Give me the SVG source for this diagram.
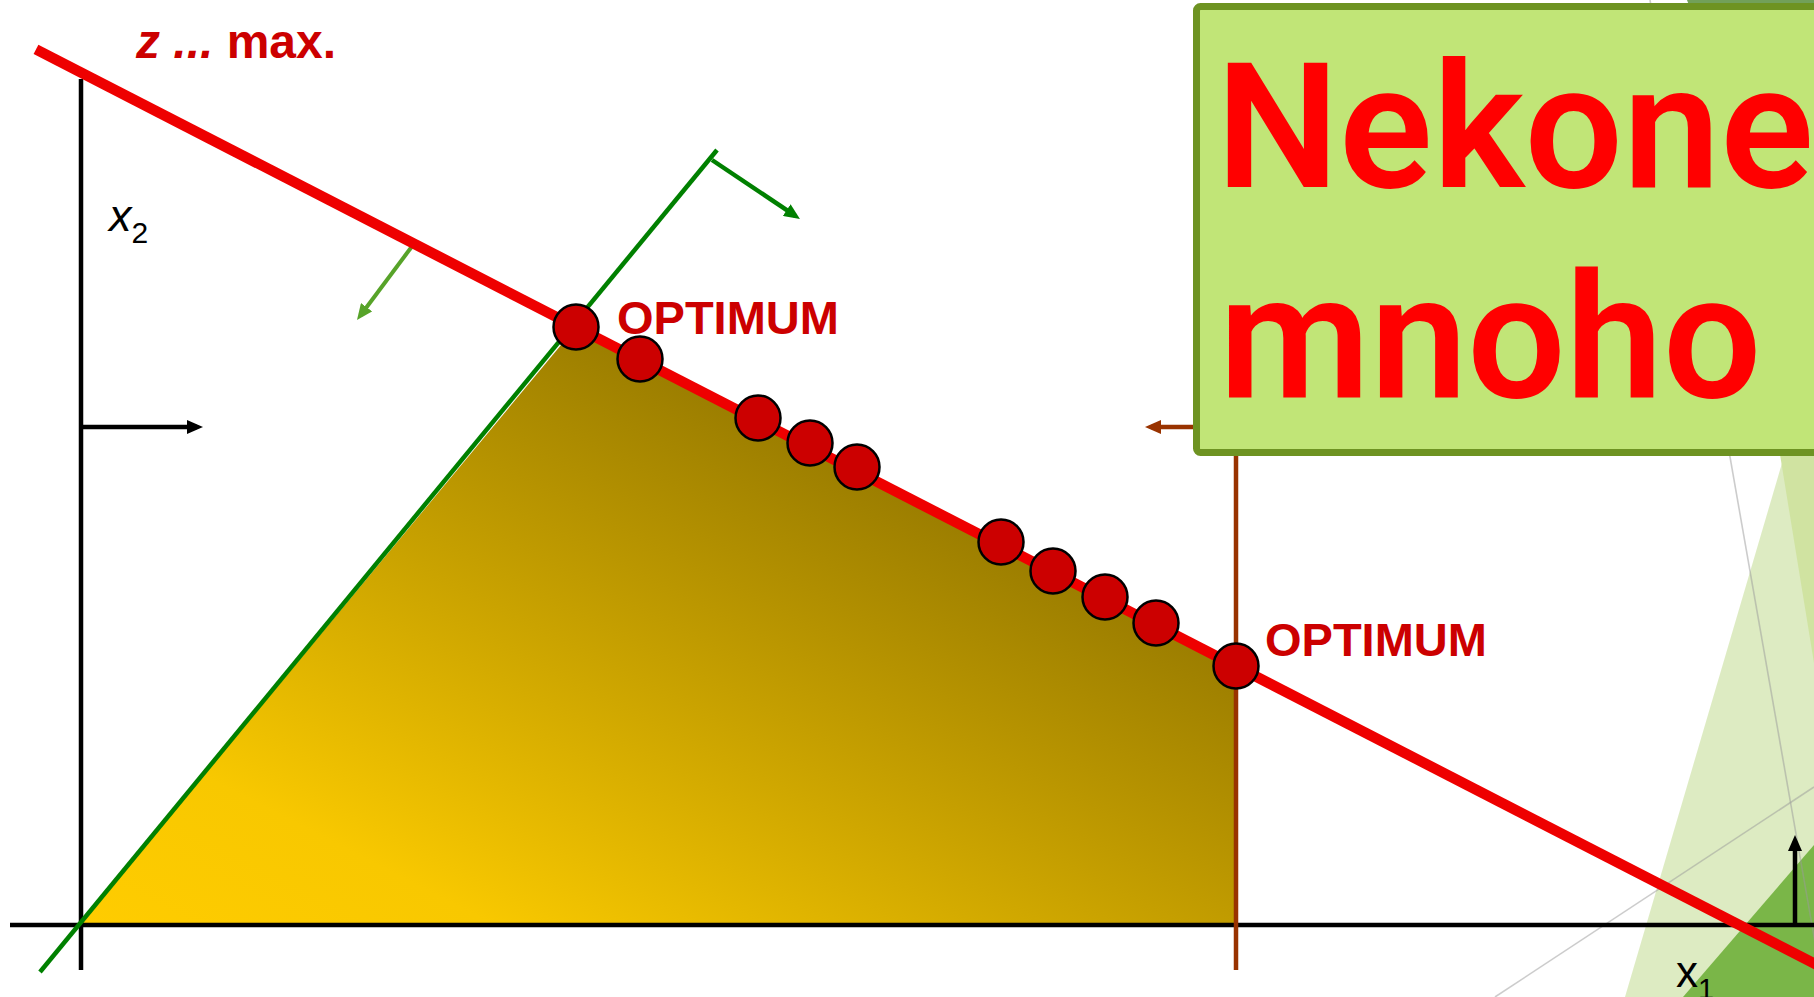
<svg xmlns="http://www.w3.org/2000/svg" width="1814" height="997" viewBox="0 0 1814 997">
<style>
.ax{stroke:#000;stroke-width:4.5;fill:none}
.dot{fill:#CC0000;stroke:#000;stroke-width:2.5}
.lab{font-family:"Liberation Sans",Arial,sans-serif;font-weight:bold;fill:#CC0000}
.axl{font-family:"Liberation Sans",Arial,sans-serif;fill:#000}
.big{font-family:Roboto,"Open Sans",sans-serif;font-weight:600;font-size:174px;fill:#FF0000}
.grey{stroke:#9A9A9A;stroke-opacity:0.5;stroke-width:1.6;fill:none}
</style>
<defs>
<linearGradient id="feas" gradientUnits="userSpaceOnUse" x1="426" y1="250" x2="79" y2="925">
<stop offset="0" stop-color="#9C7E00"/>
<stop offset="0.75" stop-color="#F8C800"/>
<stop offset="1" stop-color="#FFCC00"/>
</linearGradient>
<marker id="mBlack" markerUnits="userSpaceOnUse" viewBox="0 0 16 14" markerWidth="16" markerHeight="14" refX="10" refY="7" orient="auto"><path d="M0,0 L16,7 L0,14 z" fill="#000"/></marker>
<marker id="mGreen" markerUnits="userSpaceOnUse" viewBox="0 0 16 14" markerWidth="16" markerHeight="14" refX="10" refY="7" orient="auto"><path d="M0,0 L16,7 L0,14 z" fill="#008000"/></marker>
<marker id="mLight" markerUnits="userSpaceOnUse" viewBox="0 0 16 14" markerWidth="16" markerHeight="14" refX="10" refY="7" orient="auto"><path d="M0,0 L16,7 L0,14 z" fill="#57A329"/></marker>
<marker id="mBrown" markerUnits="userSpaceOnUse" viewBox="0 0 16 14" markerWidth="16" markerHeight="14" refX="10" refY="7" orient="auto"><path d="M0,0 L16,7 L0,14 z" fill="#993300"/></marker>
</defs>
<rect x="0" y="0" width="1814" height="997" fill="#FFFFFF"/>
<g id="background">
<polygon points="1687,0 1814,0 1814,8 1690,8" fill="#72A05A"/>
<polygon points="1625,997 1800,402 1814,402 1814,997" fill="#DDEBC2"/>
<polygon points="1776,430 1814,430 1814,663" fill="#D0E3A1"/>
<polygon points="1683,997 1814,845 1814,997" fill="#7AB648"/>
<line class="grey" x1="1650" y1="0" x2="1816" y2="948"/>
<line class="grey" x1="1495" y1="997" x2="1814" y2="787"/>
</g>
<g id="feasible-region">
<polygon points="79,925 576,327 1236,666 1236,925" fill="url(#feas)"/>
</g>
<g id="connectors">
<line id="x-axis" class="ax" x1="10" y1="925" x2="1814" y2="925"/>
<line id="y-axis" class="ax" x1="81" y1="79" x2="81" y2="970"/>
<line class="ax" x1="81" y1="427" x2="197" y2="427" stroke-width="3.5" marker-end="url(#mBlack)"/>
<line class="ax" x1="1795" y1="925" x2="1795" y2="841" stroke-width="4" marker-end="url(#mBlack)"/>
<line x1="40" y1="972" x2="717" y2="150" stroke="#008000" stroke-width="4.5"/>
<line x1="712" y1="160" x2="795" y2="215.7" stroke="#008000" stroke-width="4.5" marker-end="url(#mGreen)"/>
<line x1="1236" y1="427" x2="1236" y2="970" stroke="#993300" stroke-width="4.5"/>
<line x1="1236" y1="427" x2="1151" y2="427" stroke="#993300" stroke-width="4.5" marker-end="url(#mBrown)"/>
<line x1="413" y1="245" x2="360.6" y2="315.2" stroke="#57A329" stroke-width="4" marker-end="url(#mLight)"/>
<line id="objective" x1="36" y1="49.4" x2="1830" y2="971.6" stroke="#EE0000" stroke-width="10.5"/>
</g>
<g id="points">
<circle class="dot" cx="576" cy="327" r="22.5"/>
<circle class="dot" cx="640" cy="359" r="22.5"/>
<circle class="dot" cx="758" cy="418" r="22.5"/>
<circle class="dot" cx="810" cy="443" r="22.5"/>
<circle class="dot" cx="857" cy="467" r="22.5"/>
<circle class="dot" cx="1001" cy="542" r="22.5"/>
<circle class="dot" cx="1053" cy="571" r="22.5"/>
<circle class="dot" cx="1105" cy="597" r="22.5"/>
<circle class="dot" cx="1156" cy="623" r="22.5"/>
<circle class="dot" cx="1236" cy="666" r="22.5"/>
</g>
<g id="labels">
<text class="lab" x="136" y="58" font-size="48"><tspan font-style="italic">z ...</tspan> max.</text>
<text class="lab" x="617" y="334" font-size="47">OPTIMUM</text>
<text class="lab" x="1265" y="656" font-size="47">OPTIMUM</text>
<text class="axl" x="109" y="231" font-size="45"><tspan font-style="italic">x</tspan><tspan font-size="30" dy="12">2</tspan></text>
<text class="axl" x="1676" y="987" font-size="44">x<tspan font-size="29" dy="12">1</tspan></text>
</g>
<g id="callout">
<rect x="1196.5" y="6.5" width="700" height="446" rx="4" fill="#C1E577" stroke="#6E9322" stroke-width="7"/>
<text class="big" x="1216" y="187">Nekone</text>
<text class="big" x="1219" y="397">mnoho</text>
</g>
</svg>
